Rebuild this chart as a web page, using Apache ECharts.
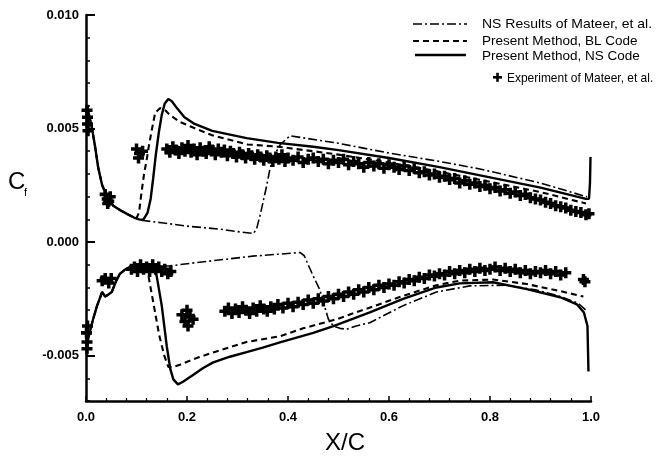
<!DOCTYPE html>
<html>
<head>
<meta charset="utf-8">
<title>Skin friction distribution</title>
<script src="https://cdn.jsdelivr.net/npm/echarts@6/dist/echarts.min.js"></script>
<style>
  html, body { margin: 0; padding: 0; background: #fff; }
  #chart { width: 662px; height: 456px; }
</style>
</head>
<body>
<div id="chart"></div>
<script>
// ---- Axis ticks ----
var xTicks = [0, 0.2, 0.4, 0.6, 0.8, 1.0];
var yTicks = [-0.005, 0.000, 0.005, 0.010];

// ---- Leading-edge portion shared by all computed curves [X/C, Cf] ----
var leadUpper = [[0.002,0.0060],[0.006,0.0056],[0.012,0.0050],[0.018,0.0042],[0.024,0.0033],[0.032,0.0025],
  [0.042,0.0020],[0.054,0.0016],[0.068,0.0014],[0.081,0.00124],[0.095,0.00108]];
var leadLower = [[0.001,-0.0046],[0.007,-0.0040],[0.014,-0.0034],[0.022,-0.0028],[0.032,-0.0022],[0.038,-0.0024],
  [0.045,-0.0023],[0.051,-0.0022],[0.060,-0.0017],[0.067,-0.0014],[0.078,-0.0012],[0.087,-0.0011],[0.105,-0.00105],[0.121,-0.00106]];

// ---- NS results of Mateer et al. (dash-dot) ----
var mateerUpper = [[0.113,0.00095],[0.150,0.00085],[0.200,0.00070],[0.265,0.00057],[0.300,0.00046],[0.332,0.00038],
  [0.338,0.0006],[0.345,0.0012],[0.352,0.0019],[0.358,0.0025],[0.364,0.0032],[0.372,0.0038],[0.385,0.0043],
  [0.404,0.00468],[0.500,0.00435],[0.600,0.00392],[0.700,0.00355],[0.780,0.00322],[0.900,0.0026],[0.992,0.00199]];
var mateerLower = [[0.166,-0.00105],[0.220,-0.00090],[0.280,-0.00075],[0.330,-0.00062],[0.384,-0.00053],[0.424,-0.00046],
  [0.432,-0.0006],[0.440,-0.0010],[0.450,-0.0015],[0.463,-0.0021],[0.472,-0.0028],[0.480,-0.0034],[0.490,-0.0037],
  [0.503,-0.0038],[0.516,-0.00384],[0.535,-0.0037],[0.562,-0.00355],[0.628,-0.0028],[0.694,-0.0022],[0.760,-0.00193],
  [0.830,-0.0019],[0.890,-0.0021],[0.940,-0.0024],[0.975,-0.0027],[0.990,-0.0030]];

// ---- Present method, BL code (dashed) ----
var blUpper = [[0.100,0.00105],[0.105,0.0013],[0.110,0.0022],[0.115,0.0030],[0.120,0.0036],[0.125,0.0043],[0.130,0.0049],
  [0.137,0.0057],[0.147,0.0059],[0.157,0.0058],[0.166,0.0056],[0.185,0.0053],[0.206,0.0051],[0.250,0.0047],[0.320,0.0043],
  [0.380,0.0042],[0.450,0.0040],[0.500,0.00385],[0.600,0.0035],[0.700,0.0031],[0.800,0.00265],[0.900,0.0022],[0.990,0.0017]];
var blLower = [[0.123,-0.0014],[0.127,-0.0019],[0.136,-0.0030],[0.145,-0.0041],[0.155,-0.0050],[0.163,-0.0055],[0.172,-0.0055],
  [0.186,-0.0054],[0.220,-0.0051],[0.252,-0.00486],[0.318,-0.0044],[0.384,-0.00415],[0.430,-0.0038],[0.496,-0.0034],
  [0.560,-0.0029],[0.628,-0.00237],[0.694,-0.0019],[0.740,-0.0017],[0.806,-0.00165],[0.873,-0.00185],[0.939,-0.00216],[0.985,-0.0024]];

// ---- Present method, NS code (solid) ----
var nsUpper = [[0.105,0.00100],[0.113,0.00097],[0.122,0.0013],[0.128,0.0019],[0.133,0.0028],[0.138,0.0038],[0.144,0.0048],
  [0.150,0.0056],[0.156,0.0061],[0.163,0.0063],[0.170,0.0062],[0.180,0.0059],[0.195,0.0055],[0.215,0.0052],[0.250,0.0049],
  [0.318,0.00458],[0.380,0.00437],[0.450,0.0042],[0.500,0.00405],[0.600,0.0037],[0.700,0.0033],[0.800,0.00285],
  [0.900,0.0024],[0.990,0.0019],[0.996,0.0019],[0.998,0.0026],[0.999,0.00375]];
var nsLower = [[0.135,-0.00115],[0.140,-0.0015],[0.150,-0.0028],[0.160,-0.0046],[0.167,-0.0056],[0.173,-0.00605],
  [0.182,-0.00627],[0.192,-0.00615],[0.212,-0.00585],[0.232,-0.00555],[0.252,-0.0053],[0.285,-0.00505],[0.318,-0.00485],
  [0.350,-0.00465],[0.384,-0.00442],[0.450,-0.0040],[0.490,-0.0037],[0.562,-0.0031],[0.628,-0.0025],[0.694,-0.0020],
  [0.740,-0.00182],[0.806,-0.00177],[0.873,-0.00207],[0.939,-0.00243],[0.972,-0.00274],[0.986,-0.0031],[0.993,-0.0037],[0.995,-0.0057]];

// ---- Experiment of Mateer et al. ----
var expUpper = [[0.002,0.0058],[0.003,0.0052],[0.004,0.0049],[0.003,0.0055],
  [0.038,0.0021],[0.042,0.0019],[0.045,0.0018],[0.048,0.0020],[0.043,0.0017],
  [0.100,0.0041],[0.106,0.0039],[0.112,0.0040],[0.104,0.0037],
  [0.160,0.00410],[0.166,0.00395],[0.172,0.00420],[0.178,0.00405],[0.184,0.00390],[0.190,0.00415],[0.196,0.00400],
  [0.202,0.00425],[0.208,0.00395],[0.214,0.00410],[0.220,0.00385],[0.226,0.00415],[0.232,0.00400],[0.238,0.00390],
  [0.244,0.00420],[0.250,0.00405],[0.256,0.00385],[0.262,0.00410],[0.268,0.00395],[0.274,0.00405],[0.280,0.00380],
  [0.286,0.00400],[0.292,0.00390],[0.298,0.00375],[0.304,0.00395],[0.310,0.00385],[0.316,0.00370],[0.322,0.00390],
  [0.328,0.00380],[0.334,0.00365],[0.340,0.00385],[0.346,0.00375],[0.352,0.00360],[0.358,0.00380],[0.364,0.00370],
  [0.370,0.00355],[0.376,0.00375],[0.382,0.00365],[0.388,0.00385],[0.394,0.00355],[0.400,0.00370],[0.410,0.00360],
  [0.420,0.00375],[0.430,0.00350],[0.440,0.00365],[0.450,0.00370],[0.460,0.00355],[0.470,0.00365],[0.480,0.00345],
  [0.490,0.00360],[0.500,0.00350],[0.510,0.00365],[0.520,0.00340],[0.530,0.00355],[0.540,0.00345],[0.550,0.00330],
  [0.560,0.00350],[0.570,0.00335],[0.580,0.00345],[0.590,0.00325],[0.600,0.00340],[0.610,0.00330],[0.620,0.00320],
  [0.630,0.00335],[0.640,0.00315],[0.650,0.00325],[0.660,0.00305],[0.670,0.00310],[0.680,0.00295],[0.690,0.00300],
  [0.700,0.00285],[0.710,0.00290],[0.720,0.00275],[0.730,0.00280],[0.740,0.00260],[0.750,0.00270],[0.760,0.00255],
  [0.770,0.00260],[0.780,0.00245],[0.790,0.00250],[0.800,0.00235],[0.810,0.00240],[0.820,0.00225],[0.830,0.00230],
  [0.840,0.00215],[0.850,0.00220],[0.860,0.00205],[0.870,0.00210],[0.880,0.00195],[0.890,0.00190],[0.900,0.00185],
  [0.910,0.00175],[0.920,0.00170],[0.930,0.00160],[0.940,0.00155],[0.950,0.00150],[0.960,0.00140],[0.970,0.00135],
  [0.980,0.00130],[0.990,0.00120],[0.996,0.00125]];
var expLower = [[0.001,-0.0040],[0.002,-0.0044],[0.003,-0.0037],[0.002,-0.0047],
  [0.032,-0.0017],[0.038,-0.0016],[0.045,-0.0018],[0.050,-0.0016],
  [0.090,-0.0012],[0.096,-0.0011],[0.102,-0.0013],[0.108,-0.0010],[0.114,-0.0012],[0.120,-0.0011],[0.126,-0.0013],
  [0.132,-0.0010],[0.138,-0.0012],[0.144,-0.0011],[0.150,-0.0013],[0.156,-0.0012],[0.162,-0.0014],[0.168,-0.0013],
  [0.190,-0.0032],[0.196,-0.0035],[0.200,-0.0030],[0.206,-0.0033],[0.212,-0.0034],[0.202,-0.0037],
  [0.275,-0.00305],[0.282,-0.00290],[0.289,-0.00315],[0.296,-0.00295],[0.303,-0.00310],[0.310,-0.00285],[0.317,-0.00300],
  [0.324,-0.00315],[0.331,-0.00290],[0.338,-0.00305],[0.345,-0.00280],[0.352,-0.00295],[0.359,-0.00305],[0.366,-0.00285],
  [0.373,-0.00295],[0.380,-0.00275],[0.390,-0.00290],[0.400,-0.00270],[0.410,-0.00285],[0.420,-0.00265],[0.430,-0.00275],
  [0.440,-0.00255],[0.450,-0.00270],[0.460,-0.00250],[0.470,-0.00260],[0.480,-0.00240],[0.490,-0.00250],[0.500,-0.00230],
  [0.510,-0.00240],[0.520,-0.00220],[0.530,-0.00230],[0.540,-0.00210],[0.550,-0.00220],[0.560,-0.00200],[0.570,-0.00210],
  [0.580,-0.00190],[0.590,-0.00200],[0.600,-0.00185],[0.610,-0.00190],[0.620,-0.00175],[0.630,-0.00180],[0.640,-0.00165],
  [0.650,-0.00170],[0.660,-0.00155],[0.670,-0.00160],[0.680,-0.00145],[0.690,-0.00150],[0.700,-0.00140],[0.710,-0.00145],
  [0.720,-0.00130],[0.730,-0.00140],[0.740,-0.00125],[0.750,-0.00135],[0.760,-0.00120],[0.770,-0.00130],[0.780,-0.00115],
  [0.790,-0.00125],[0.800,-0.00120],[0.810,-0.00110],[0.820,-0.00125],[0.830,-0.00115],[0.840,-0.00130],[0.850,-0.00120],
  [0.860,-0.00135],[0.870,-0.00125],[0.880,-0.00140],[0.890,-0.00130],[0.900,-0.00135],[0.910,-0.00125],[0.920,-0.00140],
  [0.930,-0.00130],[0.940,-0.00145],[0.950,-0.00135],[0.988,-0.00175],[0.985,-0.00165]];

var legendNames = ['NS Results of Mateer, et al.', 'Present Method, BL Code', 'Present Method, NS Code', 'Experiment of Mateer, et al.'];

var FONT = '"Liberation Sans", Arial, Helvetica, sans-serif';
var INK = '#000';
var plusPath = 'path://M3.4,0H6.6V3.4H10V6.6H6.6V10H3.4V6.6H0V3.4H3.4Z';
var dashDot = [9, 3, 2, 3];
var dashed = [6, 4];

function curve(name, data, width, type) {
  return {
    name: name, type: 'line', data: data, showSymbol: false, symbol: 'none',
    lineStyle: { color: INK, width: width, type: type }, z: 3, silent: true
  };
}

function legendText(i, x, y, sx) {
  return { type: 'text', x: x, y: y, scaleX: sx,
    style: { text: legendNames[i], font: '13px ' + FONT, fill: INK, verticalAlign: 'middle' } };
}

var chart = echarts.init(document.getElementById('chart'), null, { renderer: 'canvas' });

chart.setOption({
  animation: false,
  backgroundColor: '#fff',
  grid: { left: 86, right: 71, top: 15, bottom: 55, containLabel: false, outerBoundsMode: 'none' },
  xAxis: {
    type: 'value', min: 0, max: 1.0, interval: 0.2,
    name: 'X/C', nameLocation: 'middle', nameGap: 30,
    nameTextStyle: { fontFamily: FONT, fontSize: 24, color: INK, padding: [0, 0, 0, 13] },
    axisLine: { show: true, onZero: false, lineStyle: { color: INK, width: 2.5 } },
    axisTick: { show: true, inside: true, length: 5, lineStyle: { color: INK, width: 1.5 } },
    minorTick: { show: true, splitNumber: 5, length: 3, lineStyle: { color: INK, width: 1.2 } },
    axisLabel: {
      margin: 10, fontFamily: FONT, fontSize: 13, fontWeight: 'bold', color: INK,
      formatter: function (v) { return v.toFixed(1); }
    },
    splitLine: { show: false }
  },
  yAxis: [{
    type: 'value', min: -0.007, max: 0.010, interval: 0.001,
    axisLine: { show: true, onZero: false, lineStyle: { color: INK, width: 2.5 } },
    axisTick: { show: true, inside: true, length: 4, lineStyle: { color: INK, width: 1.5 } },
    axisLabel: {
      margin: 7, fontFamily: FONT, fontSize: 13, fontWeight: 'bold', color: INK,
      customValues: yTicks,
      formatter: function (v) { return v.toFixed(3); }
    },
    splitLine: { show: false }
  }, {
    type: 'value', min: -0.007, max: 0.010, position: 'left', offset: 0,
    axisLine: { show: false },
    axisTick: { show: true, inside: true, length: 9, customValues: yTicks, lineStyle: { color: INK, width: 2 } },
    axisLabel: { show: false },
    splitLine: { show: false }
  }],
  series: [
    curve(legendNames[0], leadUpper.concat(mateerUpper), 1.6, dashDot),
    curve(legendNames[0], leadLower.concat(mateerLower), 1.6, dashDot),
    curve(legendNames[1], leadUpper.concat(blUpper), 2.1, dashed),
    curve(legendNames[1], leadLower.concat(blLower), 2.1, dashed),
    curve(legendNames[2], leadUpper.concat(nsUpper), 2.4, 'solid'),
    curve(legendNames[2], leadLower.concat(nsLower), 2.4, 'solid'),
    {
      name: legendNames[3], type: 'scatter', data: expUpper.concat(expLower),
      symbol: plusPath, symbolSize: 11, itemStyle: { color: INK, opacity: 1 }, z: 2, silent: true
    }
  ],
  graphic: [
    // y-axis title C_f
    { type: 'text', x: 8, y: 170, style: { text: 'C', font: '24px ' + FONT, fill: INK } },
    { type: 'text', x: 24, y: 187, style: { text: 'f', font: '11px ' + FONT, fill: INK } },
    // legend keys
    { type: 'line', shape: { x1: 413, y1: 24, x2: 467, y2: 24 }, style: { stroke: INK, lineWidth: 1.6, lineDash: dashDot } },
    { type: 'line', shape: { x1: 413, y1: 41, x2: 467, y2: 41 }, style: { stroke: INK, lineWidth: 2.1, lineDash: dashed } },
    { type: 'line', shape: { x1: 415, y1: 55, x2: 466, y2: 55 }, style: { stroke: INK, lineWidth: 2.4 } },
    { type: 'rect', shape: { x: 493, y: 76, width: 9, height: 2.6 }, style: { fill: INK } },
    { type: 'rect', shape: { x: 496.2, y: 72.8, width: 2.6, height: 9 }, style: { fill: INK } },
    legendText(0, 482, 24, 1.075),
    legendText(1, 482, 41, 1.04),
    legendText(2, 482, 56, 1.04),
    legendText(3, 507, 78, 0.92)
  ]
});
</script>
</body>
</html>
